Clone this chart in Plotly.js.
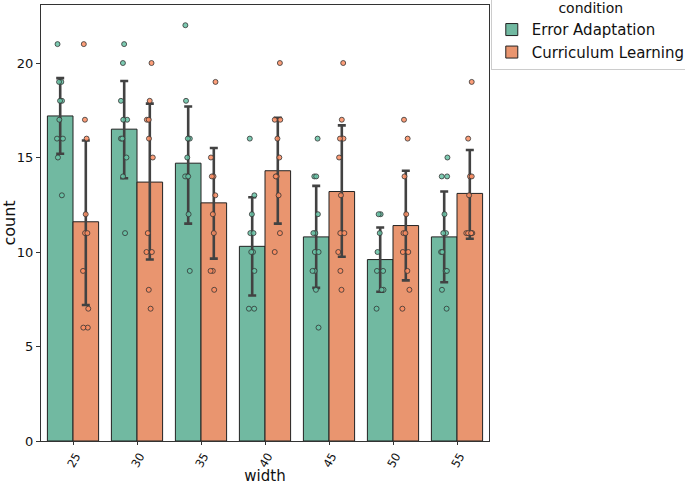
<!DOCTYPE html>
<html>
<head>
<meta charset="utf-8">
<script src="https://cdn.plot.ly/plotly-3.0.1.min.js"></script>
<style>html,body{margin:0;padding:0;background:#fff;}#chart{width:685px;height:485px;}</style>
</head>
<body>
<div id="chart"></div>
<script>
const widths = ['25','30','35','40','45','50','55'];
const seriesNames = ['Error Adaptation','Curriculum Learning'];

// bar means
const meanEA = [17.2, 16.5, 14.7, 10.3, 10.8, 9.6, 10.8];
const meanCL = [11.6, 13.7, 12.6, 14.3, 13.2, 11.4, 13.1];
// confidence interval limits
const ciLowEA  = [15.2, 13.9, 11.5, 7.7, 8.1, 7.9, 8.4];
const ciHighEA = [19.2, 19.05, 17.7, 12.9, 13.5, 11.3, 13.2];
const ciLowCL  = [7.2, 9.6, 9.65, 11.5, 9.75, 8.5, 10.7];
const ciHighCL = [15.9, 17.85, 15.5, 17.1, 16.7, 14.3, 15.4];

// individual observations
const pointsEA = {
  '25': [21,19,19,18,18,17,16,16,15,13],
  '30': [21,20,18,17,17,16,16,15,14,11],
  '35': [22,18,16,16,15,14,14,14,12,9],
  '40': [16,13,12,11,11,10,10,9,7,7],
  '45': [16,14,14,12,11,11,10,10,9,9,8,6],
  '50': [12,12,11,10,9,9,8,8,7],
  '55': [15,14,14,12,11,11,10,10,9,9,8,7]
};
const pointsCL = {
  '25': [21,17,16,12,11,11,9,7,6,6],
  '30': [20,18,17,17,16,15,11,10,10,8,7],
  '35': [19,15,14,14,13,12,11,9,9,8],
  '40': [20,17,17,16,15,14,14,13,11,10],
  '45': [20,17,16,16,15,13,11,11,10,9,8],
  '50': [17,16,14,12,11,11,10,10,9,8,7],
  '55': [19,16,14,14,13,11,11,11,11,11]
};

const colEA = '#71b9a1';
const colCL = '#e9956f';
const ptEA = 'rgba(102,194,165,0.85)';
const ptCL = 'rgba(252,141,98,0.85)';

function flat(obj){
  const xs=[], ys=[];
  widths.forEach(w => obj[w].forEach(v => {xs.push(w); ys.push(v);}));
  return {xs, ys};
}
const fEA = flat(pointsEA), fCL = flat(pointsCL);

function barTrace(name, means, lo, hi, color){
  return {
    type:'bar', name:name, x:widths, y:means,
    marker:{color:color, line:{color:'#222', width:1}},
    error_y:{type:'data', symmetric:false,
      array: hi.map((h,i)=>h-means[i]),
      arrayminus: means.map((m,i)=>m-lo[i]),
      color:'#424242', thickness:2.6, width:4},
    hoverinfo:'skip'
  };
}
function ptTrace(name, f, color){
  return {
    type:'box', name:name, x:f.xs, y:f.ys, showlegend:false,
    boxpoints:'all', jitter:0.3, pointpos:0,
    fillcolor:'rgba(0,0,0,0)', line:{width:0, color:'rgba(0,0,0,0)'},
    marker:{color:color, size:5, line:{color:'#333', width:0.8}},
    hoverinfo:'skip'
  };
}

const data = [
  barTrace(seriesNames[0], meanEA, ciLowEA, ciHighEA, colEA),
  barTrace(seriesNames[1], meanCL, ciLowCL, ciHighCL, colCL),
  ptTrace(seriesNames[0], fEA, ptEA),
  ptTrace(seriesNames[1], fCL, ptCL)
];

const layout = {
  width:685, height:485,
  margin:{l:41, r:196, t:5, b:44, autoexpand:false},
  paper_bgcolor:'#fff', plot_bgcolor:'#fff',
  font:{family:'DejaVu Sans', color:'#111', size:13},
  barmode:'group', bargap:0.2, bargroupgap:0,
  boxmode:'group', boxgap:0.2, boxgroupgap:0,
  xaxis:{
    type:'category', range:[-0.5,6.5], automargin:false,
    title:{text:'width', font:{size:15}, standoff:8},
    tickangle:-60, ticks:'outside', ticklen:3, tickcolor:'#333',
    tickfont:{size:11.5}, ticklabelshift:3,
    showline:true, linecolor:'#333', linewidth:1, mirror:true,
    showgrid:false, zeroline:false
  },
  yaxis:{
    range:[0,23.07], automargin:false,
    tickvals:[0,5,10,15,20],
    title:{text:'count', font:{size:16}, standoff:6},
    ticks:'outside', ticklen:4, tickcolor:'#333',
    showline:true, linecolor:'#333', linewidth:1, mirror:true,
    showgrid:false, zeroline:false
  },
  legend:{
    x:1.004, xanchor:'left', y:1.025, yanchor:'top',
    bordercolor:'#ccc', borderwidth:1,
    font:{size:15}, itemwidth:30,
    title:{text:'condition', font:{size:14}, side:'top center'},
    tracegroupgap:0
  },
  showlegend:true
};

Plotly.newPlot('chart', data, layout, {displayModeBar:false, staticPlot:true});
</script>
</body>
</html>
